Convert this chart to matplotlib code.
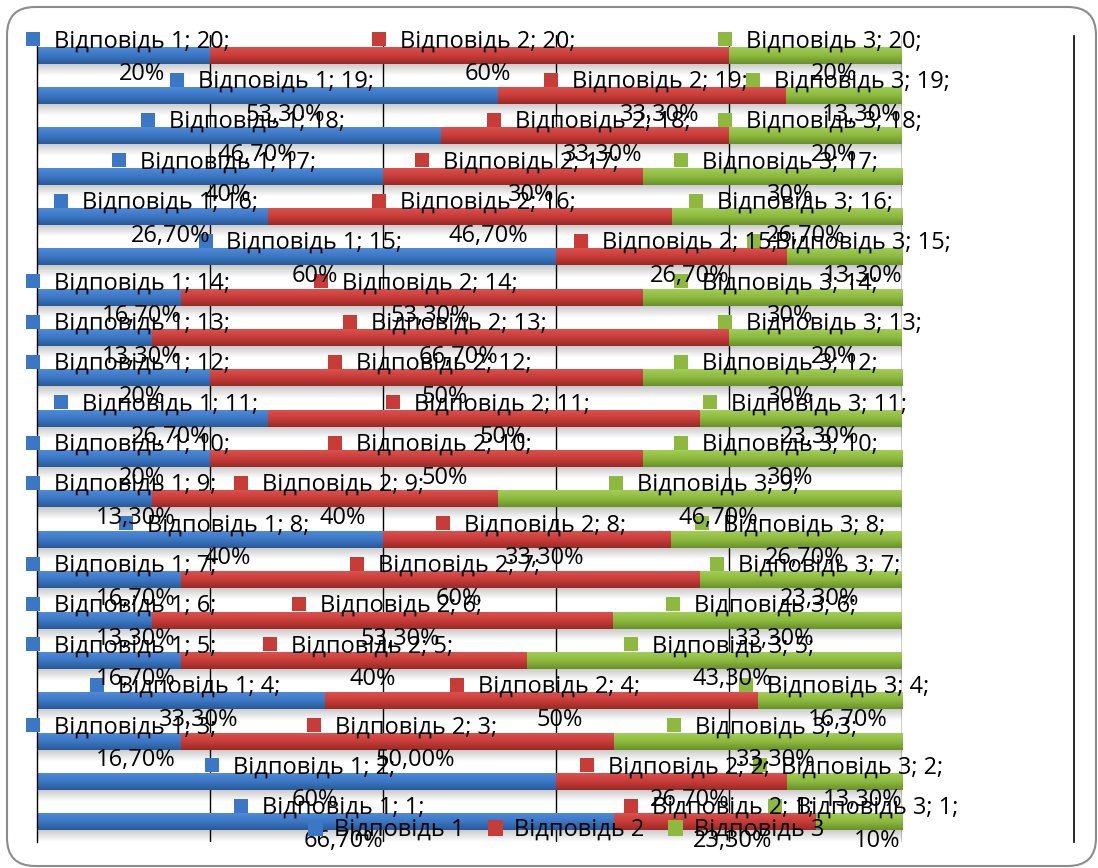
import numpy as np
import matplotlib
matplotlib.use('Agg')
import matplotlib.pyplot as plt
from matplotlib.colors import LinearSegmentedColormap
from matplotlib.patches import FancyBboxPatch, Rectangle, Patch
from matplotlib.transforms import IdentityTransform
from matplotlib.lines import Line2D

plt.rcParams['font.family'] = ['Open Sans', 'DejaVu Sans']

categories = list(range(1, 21))
series_names = ['Відповідь 1', 'Відповідь 2', 'Відповідь 3']
resp1 = [66.7, 60, 16.7, 33.3, 16.7, 13.3, 16.7, 40, 13.3, 20,
         26.7, 20, 13.3, 16.7, 60, 26.7, 40, 46.7, 53.3, 20]
resp2 = [23.3, 26.7, 50.0, 50, 40, 53.3, 60, 33.3, 40, 50,
         50, 50, 66.7, 53.3, 26.7, 46.7, 30, 33.3, 33.3, 60]
resp3 = [10, 13.3, 33.3, 16.7, 43.3, 33.3, 23.3, 26.7, 46.7, 30,
         23.3, 30, 20, 30, 13.3, 26.7, 30, 20, 13.3, 20]
labels1 = ['66,70%', '60%', '16,70%', '33,30%', '16,70%', '13,30%', '16,70%', '40%', '13,30%', '20%',
           '26,70%', '20%', '13,30%', '16,70%', '60%', '26,70%', '40%', '46,70%', '53,30%', '20%']
labels2 = ['23,30%', '26,70%', '50,00%', '50%', '40%', '53,30%', '60%', '33,30%', '40%', '50%',
           '50%', '50%', '66,70%', '53,30%', '26,70%', '46,70%', '30%', '33,30%', '33,30%', '60%']
labels3 = ['10%', '13,30%', '33,30%', '16,70%', '43,30%', '33,30%', '23,30%', '26,70%', '46,70%', '30%',
           '23,30%', '30%', '20%', '30%', '13,30%', '26,70%', '30%', '20%', '13,30%', '20%']

series = [resp1, resp2, resp3]
pct_labels = [labels1, labels2, labels3]
base_cols = ['#3b77c4', '#c83c38', '#8cb93e']
grad_cols = [('#2a5a98', '#3b77c4', '#4e8ad6'),
             ('#9a2a27', '#c83c38', '#d9514d'),
             ('#6a9129', '#8cb93e', '#a3cd55')]

W, H = 1098, 868
fig = plt.figure(figsize=(W / 100, H / 100), dpi=100)
ax = fig.add_axes([37 / W, 26 / H, (902 - 37) / W, (842 - 35) / H])

bar_h = 0.42
y = np.array(categories, dtype=float)

# shadows under bars
sh = np.zeros((20, 2, 4))
sh[..., 3] = np.linspace(0.0, 0.22, 20)[:, None]
for yc in y:
    ax.imshow(sh, extent=(0, 100, yc - bar_h / 2 - 0.3, yc - bar_h / 2 + 0.02),
              origin='lower', aspect='auto', zorder=0.5, interpolation='bilinear')

for gx in [20, 40, 60, 80, 100]:
    ax.axvline(gx, color='black', lw=1.0, zorder=1)

left = np.zeros(20)
bar_patches = []
for vals, col, gc in zip(series, base_cols, grad_cols):
    bars = ax.barh(y, vals, left=left, height=bar_h, color=col, zorder=2, linewidth=0)
    cmap = LinearSegmentedColormap.from_list('g', list(gc))
    grad = np.linspace(0, 1, 32)[:, None]
    for p in bars:
        x0, y0 = p.get_x(), p.get_y()
        ax.imshow(grad, extent=(x0, x0 + p.get_width(), y0, y0 + p.get_height()),
                  origin='lower', aspect='auto', cmap=cmap, zorder=2.5, interpolation='bilinear')
    bar_patches.append(bars)
    left = left + np.array(vals)

ax.set_xlim(0, 100)
ax.set_ylim(0.5, 20.5)
ax.set_xticks([])
ax.set_yticks([])
for s in ['top', 'right', 'bottom']:
    ax.spines[s].set_visible(False)
ax.spines['left'].set_linewidth(1.0)
ax.spines['left'].set_zorder(3)

fs = 17
renderer = fig.canvas.get_renderer()
ident = IdentityTransform()

for k, (bars, col, labs) in enumerate(zip(bar_patches, base_cols, pct_labels)):
    for i, p in enumerate(bars):
        cx = p.get_x() + p.get_width() / 2
        cy = p.get_y() + p.get_height() / 2
        px, py = ax.transData.transform((cx, cy))
        s = f'{series_names[k]}; {categories[i]};'
        t = fig.text(0, 0, s, fontsize=fs, transform=ident, ha='left', va='baseline', zorder=4)
        w = t.get_window_extent(renderer).width
        B = 28 + w
        lx = max(px + 4 - B / 2, 26)
        t.set_position((lx + 28, py + 8))
        fig.add_artist(Rectangle((lx, py + 9), 14, 14, transform=ident, facecolor=col,
                                 edgecolor='none', zorder=4))
        fig.text(lx + 28 + w / 2, py - 25, labs[i], fontsize=fs, transform=ident,
                 ha='center', va='baseline', zorder=4)

handles = [Patch(facecolor=c, edgecolor='none') for c in base_cols]
fig.legend(handles, series_names, loc='center', bbox_to_anchor=(566 / W, 1 - 830 / H),
           ncol=3, frameon=False, fontsize=fs, handlelength=0.65, handleheight=0.65,
           handletextpad=0.45, columnspacing=1.0)

fig.add_artist(FancyBboxPatch((7, 2), 1089, 859, boxstyle='round,pad=0,rounding_size=28',
                              transform=ident, fill=False, edgecolor='#8c8c8c', lw=1.5, zorder=5))
fig.add_artist(Line2D([1074, 1074], [H - 842, H - 36], transform=ident, color='black', lw=1.2))

fig.savefig('out.png', dpi=100)
